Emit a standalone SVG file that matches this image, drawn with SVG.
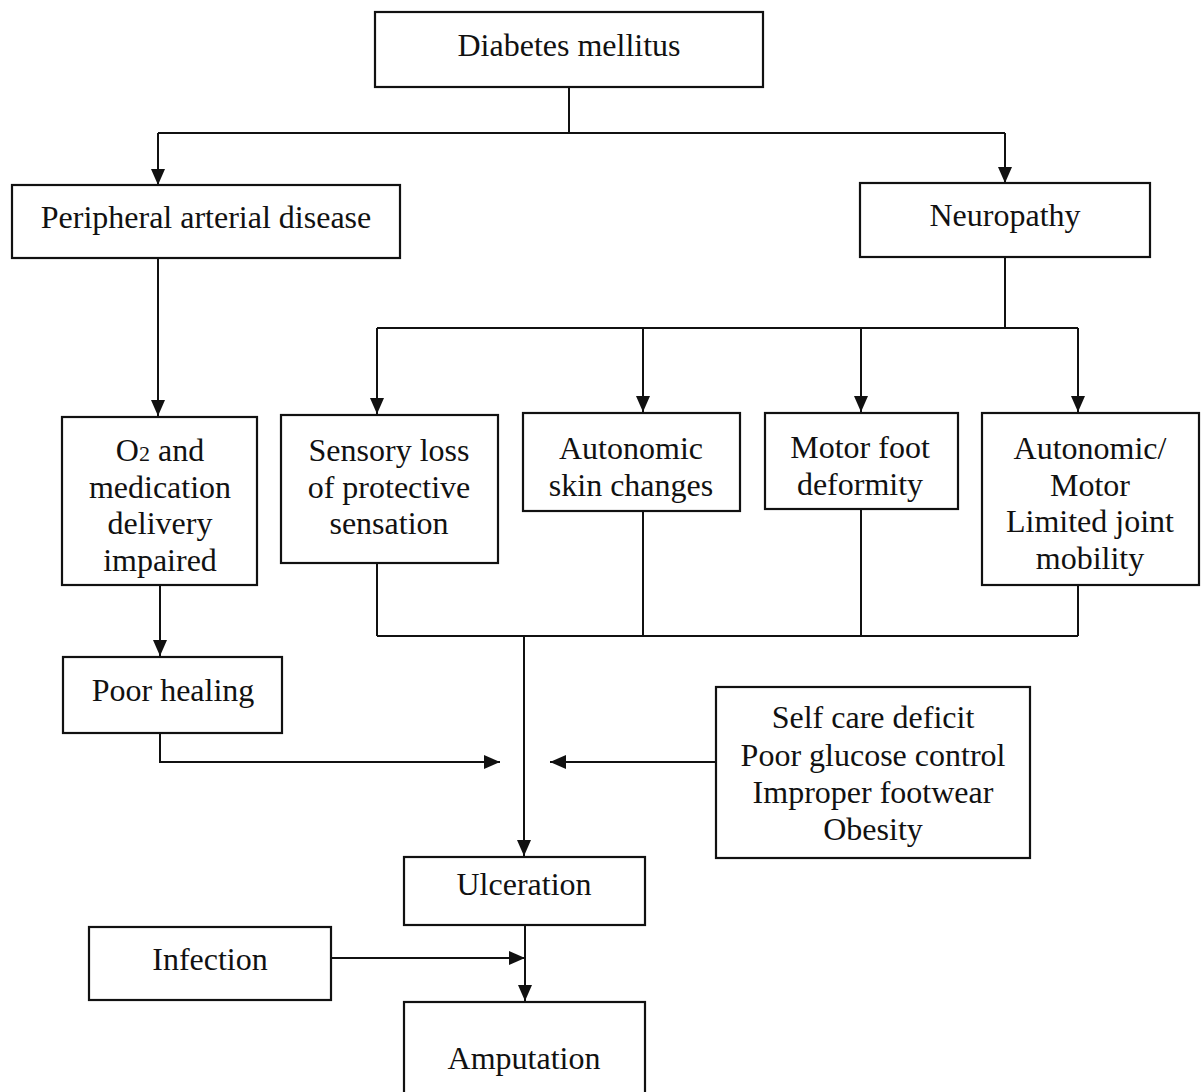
<svg xmlns="http://www.w3.org/2000/svg" width="1203" height="1092" viewBox="0 0 1203 1092">
<style>
.box{fill:#fff;stroke:#111;stroke-width:2.2}
.t{font-family:"Liberation Serif","Times New Roman",serif;font-size:32px;fill:#111;text-anchor:middle}
.c{fill:none;stroke:#111;stroke-width:2;marker-end:url(#ah)}
.l{fill:none;stroke:#111;stroke-width:2}
</style>
<defs>
<marker id="ah" markerWidth="16" markerHeight="20" refX="16" refY="10" orient="auto" markerUnits="userSpaceOnUse" viewBox="0 0 16 20">
<path d="M0,3 L16,10 L0,17 Z" fill="#111"/>
</marker>
</defs>
<rect width="1203" height="1092" fill="#fff"/>
<g id="connectors">
<path class="l" d="M569,87 V133 M158,133 H1005"/>
<path class="c" d="M158,133 V185"/>
<path class="c" d="M1005,133 V183"/>
<path class="c" d="M158,258 V416"/>
<path class="l" d="M1005,257 V328 M377,328 H1078"/>
<path class="c" d="M377,328 V414"/>
<path class="c" d="M643,328 V412"/>
<path class="c" d="M861,328 V412"/>
<path class="c" d="M1078,328 V412"/>
<path class="l" d="M377,563 V636 M643,511 V636 M861,509 V636 M1078,585 V636 M377,636 H1078"/>
<path class="c" d="M524,636 V856"/>
<path class="c" d="M160,585 V656"/>
<path class="c" d="M160,733 V762 H500"/>
<path class="c" d="M716,762 H550"/>
<path class="c" d="M525,925 V1001"/>
<path class="c" d="M331,958 H525"/>
</g>
<g id="diabetes"><rect class="box" x="375" y="12" width="388" height="75"/><text class="t" x="569" y="56">Diabetes mellitus</text></g>
<g id="pad"><rect class="box" x="12" y="185" width="388" height="73"/><text class="t" x="206" y="228">Peripheral arterial disease</text></g>
<g id="neuropathy"><rect class="box" x="860" y="183" width="290" height="74"/><text class="t" x="1005" y="226">Neuropathy</text></g>
<g id="o2"><rect class="box" x="62" y="417" width="195" height="168"/>
<text class="t" x="160" y="461">O<tspan font-size="22">2</tspan> and</text>
<text class="t" x="160" y="498">medication</text>
<text class="t" x="160" y="534">delivery</text>
<text class="t" x="160" y="571">impaired</text></g>
<g id="sensory"><rect class="box" x="281" y="415" width="217" height="148"/>
<text class="t" x="389" y="461">Sensory loss</text>
<text class="t" x="389" y="498">of protective</text>
<text class="t" x="389" y="534">sensation</text></g>
<g id="autonomic"><rect class="box" x="523" y="413" width="217" height="98"/>
<text class="t" x="631" y="459">Autonomic</text>
<text class="t" x="631" y="496">skin changes</text></g>
<g id="motor"><rect class="box" x="765" y="413" width="193" height="96"/>
<text class="t" x="860" y="458">Motor foot</text>
<text class="t" x="860" y="495">deformity</text></g>
<g id="automotor"><rect class="box" x="982" y="413" width="217" height="172"/>
<text class="t" x="1090" y="459">Autonomic/</text>
<text class="t" x="1090" y="496">Motor</text>
<text class="t" x="1090" y="532">Limited joint</text>
<text class="t" x="1090" y="569">mobility</text></g>
<g id="poorhealing"><rect class="box" x="63" y="657" width="219" height="76"/><text class="t" x="173" y="701">Poor healing</text></g>
<g id="selfcare"><rect class="box" x="716" y="687" width="314" height="171"/>
<text class="t" x="873" y="728">Self care deficit</text>
<text class="t" x="873" y="766">Poor glucose control</text>
<text class="t" x="873" y="803">Improper footwear</text>
<text class="t" x="873" y="840">Obesity</text></g>
<g id="ulceration"><rect class="box" x="404" y="857" width="241" height="68"/><text class="t" x="524" y="895">Ulceration</text></g>
<g id="infection"><rect class="box" x="89" y="927" width="242" height="73"/><text class="t" x="210" y="970">Infection</text></g>
<g id="amputation"><rect class="box" x="404" y="1002" width="241" height="100"/><text class="t" x="524" y="1069">Amputation</text></g>
</svg>
